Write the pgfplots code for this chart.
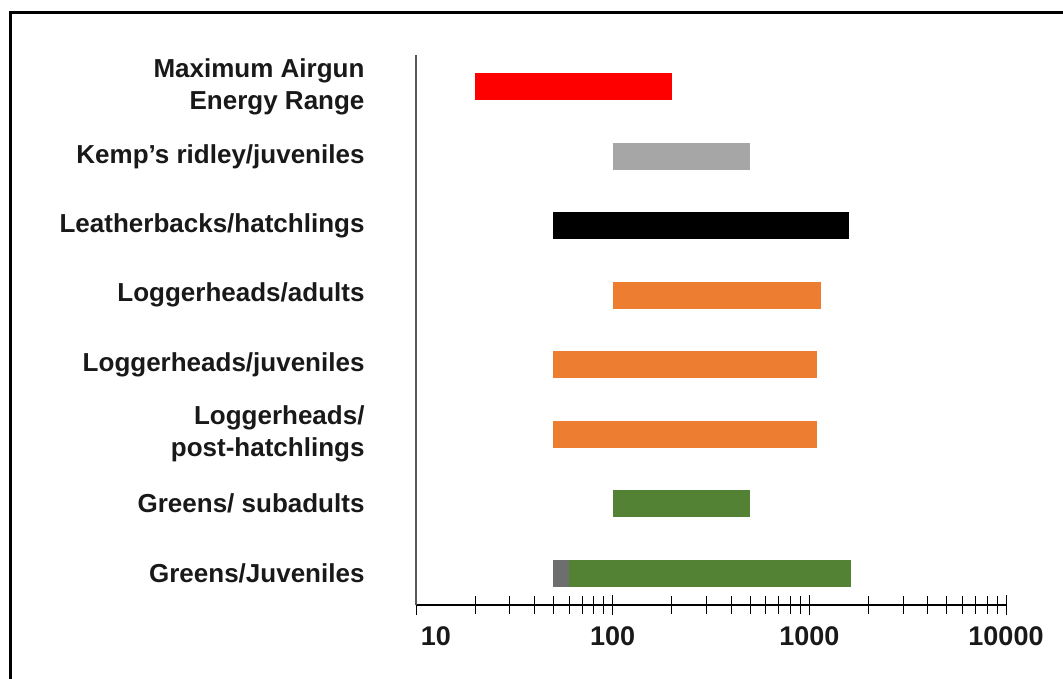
\documentclass[border=0pt]{standalone}
\usepackage{pgfplots}
\pgfplotsset{compat=1.18}
\usepackage{fontspec}
\setmainfont{Liberation Sans}
\definecolor{barred}{RGB}{255,0,0}
\definecolor{bargray}{RGB}{166,166,166}
\definecolor{barorange}{RGB}{237,125,49}
\definecolor{bargreen}{RGB}{84,130,53}
\definecolor{startgray}{RGB}{110,110,110}
\definecolor{txt}{RGB}{25,25,25}
\begin{document}
\begin{tikzpicture}[x=1pt,y=1pt]
\useasboundingbox (0,0) rectangle (1063,678);
\draw[line width=3pt] (10,-5) -- (10,665) -- (1070,665);
\begin{axis}[
  at={(416pt,73pt)}, anchor=south west,
  scale only axis, width=590pt, height=550pt,
  xmode=log, xmin=10, xmax=10000,
  ymin=-0.46, ymax=7.46,
  axis x line=bottom, axis y line=left,
  axis line style={-},
  x axis line style={black, line width=1.2pt},
  y axis line style={black!65, line width=2pt},
  xtick={10,100,1000,10000},
  xticklabels={\hspace*{40pt}10,100,1000,10000},
  minor xtick={20,30,40,50,60,70,80,90,200,300,400,500,600,700,800,900,2000,3000,4000,5000,6000,7000,8000,9000},
  tick align=center,
  major tick length=20pt, minor tick length=18pt,
  every tick/.style={black, line width=0.8pt},
  ytick={0,...,7},
  yticklabels={Greens/Juveniles, Greens/ subadults, Loggerheads/\\post-hatchlings, Loggerheads/juveniles, Loggerheads/adults, Leatherbacks/hatchlings, Kemp's ridley/juveniles, Maximum Airgun\\Energy Range},
  y tick label style={align=right, text=txt, xshift=-38pt, font=\fontsize{26}{32}\selectfont\bfseries},
  ytick style={draw=none},
  x tick label style={text=txt, yshift=-8pt, font=\fontsize{27}{30}\selectfont\bfseries},
  clip=false,
]
\addplot[line width=27pt, color=barred] coordinates {(20,7) (200,7)};
\addplot[line width=27pt, color=bargray] coordinates {(100,6) (500,6)};
\addplot[line width=27pt, color=black] coordinates {(50,5) (1600,5)};
\addplot[line width=27pt, color=barorange] coordinates {(100,4) (1150,4)};
\addplot[line width=27pt, color=barorange] coordinates {(50,3) (1100,3)};
\addplot[line width=27pt, color=barorange] coordinates {(50,2) (1100,2)};
\addplot[line width=27pt, color=bargreen] coordinates {(100,1) (500,1)};
\addplot[line width=27pt, color=startgray] coordinates {(50,0) (60,0)};
\addplot[line width=27pt, color=bargreen] coordinates {(60,0) (1620,0)};
\end{axis}
\end{tikzpicture}
\end{document}
